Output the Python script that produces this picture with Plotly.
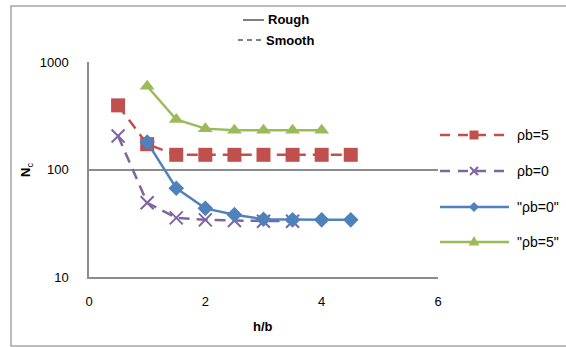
import plotly.graph_objects as go

# ---- data -------------------------------------------------------------
hb_smooth5 = [0.5, 1.0, 1.5, 2.0, 2.5, 3.0, 3.5, 4.0, 4.5]
nc_smooth5 = [395, 172, 137, 137, 137, 137, 137, 137, 137]

hb_smooth0 = [0.5, 1.0, 1.5, 2.0, 2.5, 3.0, 3.5]
nc_smooth0 = [205, 49, 35.5, 34, 33.5, 33, 33]

hb_rough0 = [1.0, 1.5, 2.0, 2.5, 3.0, 3.5, 4.0, 4.5]
nc_rough0 = [180, 67, 43.5, 38, 34.5, 34, 34, 34]

hb_rough5 = [1.0, 1.5, 2.0, 2.5, 3.0, 3.5, 4.0]
nc_rough5 = [595, 292, 240, 232, 232, 232, 232]

x_ticks = [0, 2, 4, 6]
y_ticks = [10, 100, 1000]
y_tick_text = ["10", "100", "1000"]

series_names = ["\u03c1b=5", "\u03c1b=0", "\"\u03c1b=0\"", "\"\u03c1b=5\""]

RED, PURPLE, BLUE, GREEN = "#C0504D", "#8064A2", "#4F81BD", "#9BBB59"
GRID = "#8C8C8C"
FONT = "Liberation Sans"

W, H = 566, 347
L, R, T, B = 89, 438, 62, 277  # plot-area edges in pixels

def px(x):
    return (x - L) / (R - L)

def py(y):
    return (B - y) / (B - T)

fig = go.Figure()

dash_pat = "11px,7px"

fig.add_trace(go.Scatter(
    x=hb_smooth5, y=nc_smooth5, mode="lines+markers", name=series_names[0],
    line=dict(color=RED, width=2.5, dash=dash_pat),
    marker=dict(symbol="square", size=14, color=RED), cliponaxis=False))
fig.add_trace(go.Scatter(
    x=hb_smooth0, y=nc_smooth0, mode="lines+markers", name=series_names[1],
    line=dict(color=PURPLE, width=2.5, dash=dash_pat),
    marker=dict(symbol="x-thin", size=13, color=PURPLE,
                line=dict(color=PURPLE, width=2)), cliponaxis=False))
fig.add_trace(go.Scatter(
    x=hb_rough0, y=nc_rough0, mode="lines+markers", name=series_names[2],
    line=dict(color=BLUE, width=2.5),
    marker=dict(symbol="diamond", size=12, color=BLUE), cliponaxis=False))
fig.add_trace(go.Scatter(
    x=hb_rough5, y=nc_rough5, mode="lines+markers", name=series_names[3],
    line=dict(color=GREEN, width=2.5),
    marker=dict(symbol="triangle-up", size=13, color=GREEN), cliponaxis=False))

# ---- hand-built legend (paper-referenced shapes) -----------------------
leg_y = [135, 171, 207, 242]
leg_colors = [RED, PURPLE, BLUE, GREEN]
leg_dash = ["dash", "dash", "solid", "solid"]
leg_symbols = ["square", "x", "diamond", "triangle"]
shapes = []
annotations = []


def path_px(points, close=True):
    body = "M " + " L ".join(f"{px(a):.5f},{py(b):.5f}" for a, b in points)
    return body + (" Z" if close else "")


MX = 474  # legend marker centre
for yy, c, d, sym, nm in zip(leg_y, leg_colors, leg_dash, leg_symbols, series_names):
    shapes.append(dict(type="line", xref="paper", yref="paper",
                       x0=px(440), x1=px(509), y0=py(yy), y1=py(yy),
                       line=dict(color=c, width=2.5,
                                 dash=("10px,8px" if d == "dash" else "solid"))))
    if sym == "square":
        shapes.append(dict(type="rect", xref="paper", yref="paper",
                           x0=px(MX - 4.5), x1=px(MX + 4.5),
                           y0=py(yy + 4.5), y1=py(yy - 4.5),
                           fillcolor=c, line=dict(width=0)))
    elif sym == "diamond":
        shapes.append(dict(type="path", xref="paper", yref="paper",
                           path=path_px([(MX, yy - 5), (MX + 5, yy), (MX, yy + 5), (MX - 5, yy)]),
                           fillcolor=c, line=dict(width=0)))
    elif sym == "triangle":
        shapes.append(dict(type="path", xref="paper", yref="paper",
                           path=path_px([(MX, yy - 6), (MX + 5.5, yy + 3.5), (MX - 5.5, yy + 3.5)]),
                           fillcolor=c, line=dict(width=0)))
    else:
        for sgn in (1, -1):
            shapes.append(dict(type="line", xref="paper", yref="paper",
                               x0=px(MX - 4), x1=px(MX + 4),
                               y0=py(yy - 4 * sgn), y1=py(yy + 4 * sgn),
                               line=dict(color=c, width=2)))
    annotations.append(dict(xref="paper", yref="paper", x=px(515), y=py(yy),
                            xanchor="left", yanchor="middle", showarrow=False,
                            text=nm, font=dict(family=FONT, size=14, color="#000")))

# line-style key above the plot
shapes.append(dict(type="line", xref="paper", yref="paper",
                   x0=px(243), x1=px(264), y0=py(20), y1=py(20),
                   line=dict(color="#000", width=1)))
shapes.append(dict(type="line", xref="paper", yref="paper",
                   x0=px(238), x1=px(262), y0=py(40), y1=py(40),
                   line=dict(color="#000", width=1, dash="5px,4px")))
annotations.append(dict(xref="paper", yref="paper", x=px(266), y=py(20),
                        xanchor="left", yanchor="middle", showarrow=False,
                        text="<b>Rough</b>",
                        font=dict(family=FONT, size=13, color="#000")))
annotations.append(dict(xref="paper", yref="paper", x=px(264), y=py(40),
                        xanchor="left", yanchor="middle", showarrow=False,
                        text="<b>Smooth</b>",
                        font=dict(family=FONT, size=13, color="#000")))

# axis titles
annotations.append(dict(xref="paper", yref="paper", x=px(26), y=py(170),
                        xanchor="center", yanchor="middle", showarrow=False,
                        textangle=-90, text="<b>N</b><sub>c</sub>",
                        font=dict(family=FONT, size=13, color="#000")))
annotations.append(dict(xref="paper", yref="paper", x=px(263), y=py(326),
                        xanchor="center", yanchor="middle", showarrow=False,
                        text="<b>h/b</b>",
                        font=dict(family=FONT, size=13, color="#000")))

# chart-area border (left, top, bottom edges; right edge lies off-page)
shapes.append(dict(type="path", xref="paper", yref="paper",
                   path=path_px([(W, 6), (11, 6), (11, 346), (W, 346)], close=False),
                   line=dict(color="#A6A6A6", width=1.5), layer="below"))

fig.update_layout(
    width=W, height=H,
    margin=dict(l=L, r=W - R, t=T, b=H - B, pad=0),
    paper_bgcolor="white", plot_bgcolor="white",
    showlegend=False,
    font=dict(family=FONT, size=13, color="#000"),
    shapes=shapes, annotations=annotations,
    xaxis=dict(range=[0, 6], tickvals=x_ticks, showgrid=False, zeroline=False,
               showline=True, linecolor=GRID, linewidth=1.5, ticks="",
               ticklabelstandoff=12, tickfont=dict(size=13)),
    yaxis=dict(type="log", range=[1, 3], tickvals=y_ticks, ticktext=y_tick_text,
               showgrid=True, gridcolor=GRID, gridwidth=1.5, zeroline=False,
               showline=True, linecolor=GRID, linewidth=1.5, ticks="",
               ticklabelstandoff=16, tickfont=dict(size=13)),
)

fig.write_html("out.html")
